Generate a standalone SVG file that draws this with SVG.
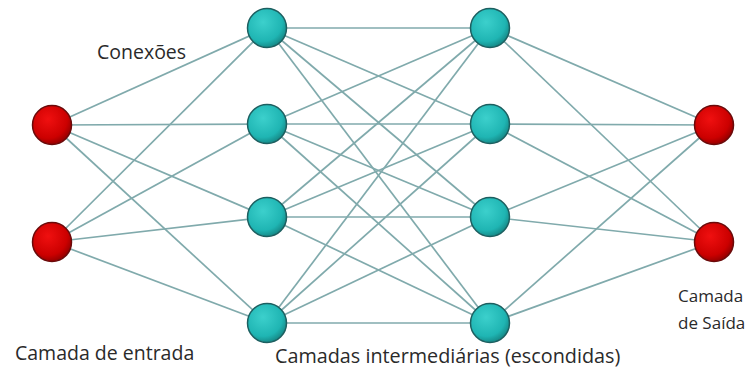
<svg xmlns="http://www.w3.org/2000/svg" width="749" height="371" viewBox="0 0 749 371">
  <defs>
    <radialGradient id="gRed" cx="0.4" cy="0.35" r="0.7">
      <stop offset="0" stop-color="#f01010"/>
      <stop offset="0.7" stop-color="#cc0000"/>
      <stop offset="1" stop-color="#8a0000"/>
    </radialGradient>
    <radialGradient id="gTeal" cx="0.4" cy="0.35" r="0.7">
      <stop offset="0" stop-color="#3cd0cc"/>
      <stop offset="0.7" stop-color="#1fb5b3"/>
      <stop offset="1" stop-color="#14807e"/>
    </radialGradient>
    <style>
      .link { stroke: #80aaac; stroke-width: 1.7; fill: none; }
      .red { fill: url(#gRed); stroke: #6a0a0a; stroke-width: 1.5; }
      .teal { fill: url(#gTeal); stroke: #1d5f60; stroke-width: 1.5; }
      .lbl { font-family: "Open Sans", "Liberation Sans", sans-serif; font-size: 19.5px; fill: #2a2a2a; }
      .side { font-size: 17px; }
    </style>
  </defs>
  <rect width="749" height="371" fill="#ffffff"/>

  <g id="connectors">
    <!-- input -> hidden 1 -->
    <line class="link" x1="52" y1="125" x2="267" y2="28"/>
    <line class="link" x1="52" y1="125" x2="267" y2="124"/>
    <line class="link" x1="52" y1="125" x2="267" y2="217"/>
    <line class="link" x1="52" y1="125" x2="267" y2="323"/>
    <line class="link" x1="52" y1="242" x2="267" y2="28"/>
    <line class="link" x1="52" y1="242" x2="267" y2="124"/>
    <line class="link" x1="52" y1="242" x2="267" y2="217"/>
    <line class="link" x1="52" y1="242" x2="267" y2="323"/>
    <!-- hidden 1 -> hidden 2 -->
    <line class="link" x1="267" y1="28" x2="490" y2="28"/>
    <line class="link" x1="267" y1="28" x2="490" y2="124"/>
    <line class="link" x1="267" y1="28" x2="490" y2="217"/>
    <line class="link" x1="267" y1="28" x2="490" y2="323"/>
    <line class="link" x1="267" y1="124" x2="490" y2="28"/>
    <line class="link" x1="267" y1="124" x2="490" y2="124"/>
    <line class="link" x1="267" y1="124" x2="490" y2="217"/>
    <line class="link" x1="267" y1="124" x2="490" y2="323"/>
    <line class="link" x1="267" y1="217" x2="490" y2="28"/>
    <line class="link" x1="267" y1="217" x2="490" y2="124"/>
    <line class="link" x1="267" y1="217" x2="490" y2="217"/>
    <line class="link" x1="267" y1="217" x2="490" y2="323"/>
    <line class="link" x1="267" y1="323" x2="490" y2="28"/>
    <line class="link" x1="267" y1="323" x2="490" y2="124"/>
    <line class="link" x1="267" y1="323" x2="490" y2="217"/>
    <line class="link" x1="267" y1="323" x2="490" y2="323"/>
    <!-- hidden 2 -> output -->
    <line class="link" x1="490" y1="28" x2="714" y2="125"/>
    <line class="link" x1="490" y1="28" x2="714" y2="242"/>
    <line class="link" x1="490" y1="124" x2="714" y2="125"/>
    <line class="link" x1="490" y1="124" x2="714" y2="242"/>
    <line class="link" x1="490" y1="217" x2="714" y2="125"/>
    <line class="link" x1="490" y1="217" x2="714" y2="242"/>
    <line class="link" x1="490" y1="323" x2="714" y2="125"/>
    <line class="link" x1="490" y1="323" x2="714" y2="242"/>
  </g>

  <g id="in1"><circle class="red" cx="52" cy="125" r="19.5"/></g>
  <g id="in2"><circle class="red" cx="52" cy="242" r="19.5"/></g>

  <g id="h1a"><circle class="teal" cx="267" cy="28" r="19.5"/></g>
  <g id="h1b"><circle class="teal" cx="267" cy="124" r="19.5"/></g>
  <g id="h1c"><circle class="teal" cx="267" cy="217" r="19.5"/></g>
  <g id="h1d"><circle class="teal" cx="267" cy="323" r="19.5"/></g>

  <g id="h2a"><circle class="teal" cx="490" cy="28" r="19.5"/></g>
  <g id="h2b"><circle class="teal" cx="490" cy="124" r="19.5"/></g>
  <g id="h2c"><circle class="teal" cx="490" cy="217" r="19.5"/></g>
  <g id="h2d"><circle class="teal" cx="490" cy="323" r="19.5"/></g>

  <g id="out1"><circle class="red" cx="714" cy="125" r="19.5"/></g>
  <g id="out2"><circle class="red" cx="714" cy="242" r="19.5"/></g>

  <g id="labels">
    <text class="lbl" x="97" y="59">Conexões</text>
    <text class="lbl" x="15" y="360">Camada de entrada</text>
    <text class="lbl" x="275" y="363" style="font-size:19.8px">Camadas intermediárias (escondidas)</text>
    <text class="lbl side" x="678" y="302">Camada</text>
    <text class="lbl side" x="678" y="329">de Saída</text>
  </g>
</svg>
